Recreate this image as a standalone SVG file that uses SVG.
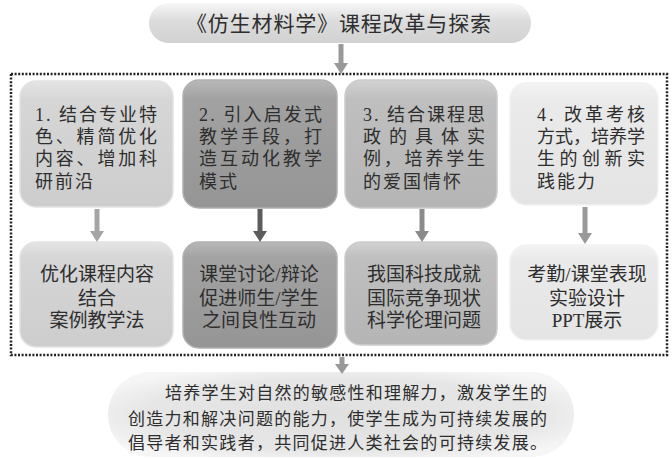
<svg xmlns="http://www.w3.org/2000/svg" width="672" height="459" viewBox="0 0 672 459">
<style>
text{font-family:"Liberation Serif","Noto Sans CJK SC",serif;fill:#2e2e2e}
.bt{font-size:18px}
.bc{font-size:19px;text-anchor:middle}
.ft{font-size:17px}
.last{letter-spacing:2px}
</style>
<defs>
<linearGradient id="gTitle" x1="0" y1="0" x2="0" y2="1">
<stop offset="0" stop-color="#f7f7f7"/><stop offset="0.45" stop-color="#dcdcdc"/><stop offset="1" stop-color="#d2d2d2"/>
</linearGradient>
<radialGradient id="gBottom" cx="0.5" cy="0.5" r="0.6">
<stop offset="0" stop-color="#e0e0e0"/><stop offset="0.7" stop-color="#e6e6e6"/><stop offset="1" stop-color="#f6f6f6"/>
</radialGradient>
<linearGradient id="g1" x1="0" y1="0" x2="0" y2="1">
<stop offset="0" stop-color="#e4e4e4"/><stop offset="0.15" stop-color="#d6d6d6"/><stop offset="1" stop-color="#cdcdcd"/>
</linearGradient>
<linearGradient id="g2" x1="0" y1="0" x2="0" y2="1">
<stop offset="0" stop-color="#b8b8b8"/><stop offset="0.15" stop-color="#a2a2a2"/><stop offset="1" stop-color="#959595"/>
</linearGradient>
<linearGradient id="g3" x1="0" y1="0" x2="0" y2="1">
<stop offset="0" stop-color="#d2d2d2"/><stop offset="0.15" stop-color="#bfbfbf"/><stop offset="1" stop-color="#b5b5b5"/>
</linearGradient>
<linearGradient id="g4" x1="0" y1="0" x2="0" y2="1">
<stop offset="0" stop-color="#f3f3f3"/><stop offset="0.15" stop-color="#eaeaea"/><stop offset="1" stop-color="#e4e4e4"/>
</linearGradient>
</defs>

<g id="title">
<rect x="149" y="3" width="382" height="40" rx="20" fill="url(#gTitle)"/>
<text x="186" y="31" font-size="21" textLength="305" lengthAdjust="spacing">《仿生材料学》课程改革与探索</text>
</g>

<g id="frame">
<rect x="11" y="74" width="656" height="281" fill="none" stroke="#222" stroke-width="2.5" stroke-dasharray="2 1.6"/>
</g>

<g id="box1">
<rect x="20" y="81" width="153" height="126" rx="16" fill="url(#g1)" stroke="#e2e2e2" stroke-width="1.5"/>
<text class="bt" x="35" y="121" textLength="122" lengthAdjust="spacing">1. 结合专业特</text>
<text class="bt" x="35" y="143" textLength="122" lengthAdjust="spacing">色、精简优化</text>
<text class="bt" x="35" y="165" textLength="122" lengthAdjust="spacing">内容、增加科</text>
<text class="bt last" x="35" y="188">研前沿</text>
</g>
<g id="box2">
<rect x="183" y="80" width="154" height="128" rx="16" fill="url(#g2)" stroke="#b0b0b0" stroke-width="1.5"/>
<text class="bt" x="199" y="121" textLength="123" lengthAdjust="spacing">2. 引入启发式</text>
<text class="bt" x="199" y="143" textLength="123" lengthAdjust="spacing">教学手段，打</text>
<text class="bt" x="199" y="165" textLength="123" lengthAdjust="spacing">造互动化教学</text>
<text class="bt last" x="199" y="188">模式</text>
</g>
<g id="box3">
<rect x="345" y="80" width="152" height="128" rx="16" fill="url(#g3)" stroke="#cccccc" stroke-width="1.5"/>
<text class="bt" x="363" y="121" textLength="122" lengthAdjust="spacing">3. 结合课程思</text>
<text class="bt" x="363" y="143" textLength="122" lengthAdjust="spacing">政的具体实</text>
<text class="bt" x="363" y="165" textLength="122" lengthAdjust="spacing">例，培养学生</text>
<text class="bt last" x="363" y="188">的爱国情怀</text>
</g>
<g id="box4">
<rect x="510" y="83" width="148" height="122" rx="16" fill="url(#g4)" stroke="#f2f2f2" stroke-width="1.5"/>
<text class="bt" x="537" y="121" textLength="108" lengthAdjust="spacing">4. 改革考核</text>
<text class="bt" x="537" y="143" textLength="108" lengthAdjust="spacing">方式，培养学</text>
<text class="bt" x="537" y="165" textLength="108" lengthAdjust="spacing">生的创新实</text>
<text class="bt last" x="537" y="188">践能力</text>
</g>

<g id="box1b">
<rect x="20" y="242" width="153" height="105" rx="16" fill="url(#g1)" stroke="#e2e2e2" stroke-width="1.5"/>
<text class="bc" x="97" y="281">优化课程内容</text>
<text class="bc" x="97" y="305">结合</text>
<text class="bc" x="97" y="327">案例教学法</text>
</g>
<g id="box2b">
<rect x="183" y="242" width="154" height="106" rx="16" fill="url(#g2)" stroke="#b0b0b0" stroke-width="1.5"/>
<text class="bc" x="259" y="281">课堂讨论/辩论</text>
<text class="bc" x="259" y="305">促进师生/学生</text>
<text class="bc" x="259" y="327">之间良性互动</text>
</g>
<g id="box3b">
<rect x="345" y="242" width="152" height="103" rx="16" fill="url(#g3)" stroke="#cccccc" stroke-width="1.5"/>
<text class="bc" x="424" y="281">我国科技成就</text>
<text class="bc" x="424" y="305">国际竞争现状</text>
<text class="bc" x="424" y="327">科学伦理问题</text>
</g>
<g id="box4b">
<rect x="510" y="245" width="148" height="95" rx="16" fill="url(#g4)" stroke="#f2f2f2" stroke-width="1.5"/>
<text class="bc" x="587" y="281">考勤/课堂表现</text>
<text class="bc" x="587" y="305">实验设计</text>
<text class="bc" x="587" y="327">PPT展示</text>
</g>

<g id="result">
<rect x="108" y="372" width="466" height="85" rx="42" fill="url(#gBottom)"/>
<text class="ft" x="165" y="399" textLength="382" lengthAdjust="spacing">培养学生对自然的敏感性和理解力，激发学生的</text>
<text class="ft" x="128" y="425" textLength="419" lengthAdjust="spacing">创造力和解决问题的能力，使学生成为可持续发展的</text>
<text class="ft" x="128" y="449" textLength="419" lengthAdjust="spacing">倡导者和实践者，共同促进人类社会的可持续发展。</text>
</g>

<g id="connectors">
<rect x="338.5" y="44" width="5" height="20" fill="#999"/>
<polygon points="334,63 348,63 341,74" fill="#999"/>
<rect x="94.5" y="209" width="5" height="23" fill="#a5a5a5"/>
<polygon points="90,231 104,231 97,242" fill="#a5a5a5"/>
<rect x="257.5" y="209" width="5" height="23" fill="#5c5c5c"/>
<polygon points="253,231 267,231 260,242" fill="#5c5c5c"/>
<rect x="419.5" y="209" width="5" height="23" fill="#8a8a8a"/>
<polygon points="415,231 429,231 422,242" fill="#8a8a8a"/>
<rect x="582.5" y="207" width="5" height="27" fill="#999"/>
<polygon points="578,233 592,233 585,244" fill="#999"/>
<rect x="339.5" y="357" width="5" height="8" fill="#999"/>
<polygon points="335,364 349,364 342,374" fill="#999"/>
</g>
</svg>
